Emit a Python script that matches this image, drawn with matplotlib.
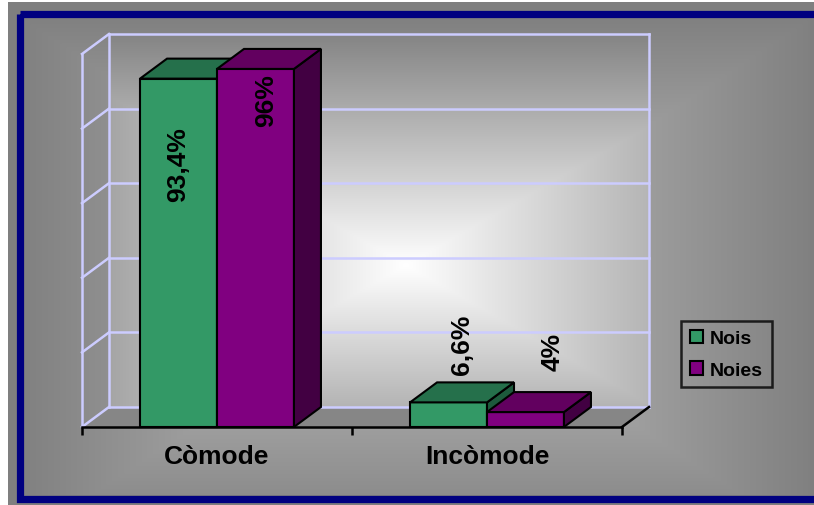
import numpy as np
import matplotlib
matplotlib.use("Agg")
import matplotlib.pyplot as plt
from matplotlib.patches import Polygon, Rectangle, Patch

plt.rcParams["font.family"] = ["Liberation Sans", "DejaVu Sans"]
plt.rcParams["font.weight"] = "bold"

# ---- data ----
categories = ["Còmode", "Incòmode"]
series = ["Nois", "Noies"]
nois = [93.4, 6.6]
noies = [96.0, 4.0]
value_labels = [["93,4%", "6,6%"], ["96%", "4%"]]

# ---- style ----
front_colors = ["#339966", "#800080"]
top_colors = ["#25704b", "#62005f"]
side_colors = ["#1d5a3c", "#420042"]
grid_color = "#ccccff"
BAR_W = 0.285          # width of one bar (category units)
DX, DY = 0.1, 5.36     # 3-D depth offset (data units)
YMAX = 100
# label anchor (x shift, y centre) per series/category
label_dx = [[0.0, 0.05], [0.04, 0.1]]
label_y = [[70.5, 22.3], [87.7, 20.4]]

W, H = 814, 506
fig = plt.figure(figsize=(W / 100, H / 100), dpi=100)
fig.patch.set_facecolor("white")

# ---- chart-area background ----
bg = fig.add_axes([0, 0, 1, 1])
bg.set_xlim(0, W)
bg.set_ylim(H, 0)
bg.axis("off")


def rect_gradient(nx, ny, cx, cy, hx, hy, c_in, c_out, gamma=1.0):
    xs = (np.arange(nx) + 0.5) / nx
    ys = (np.arange(ny) + 0.5) / ny
    X, Y = np.meshgrid(xs, ys)
    t = np.maximum(np.abs(X - cx) / hx, np.abs(Y - cy) / hy)
    t = np.clip(t, 0, 1) ** gamma
    c_in = np.array(matplotlib.colors.to_rgb(c_in))
    c_out = np.array(matplotlib.colors.to_rgb(c_out))
    return c_in * (1 - t[..., None]) + c_out * t[..., None]


bg.add_patch(Rectangle((8, 3), W, H, facecolor="#7f7f7f", edgecolor="none"))
outer = rect_gradient(400, 250, 0.5, 0.55, 0.55, 0.6, "#c4c4c4", "#7a7a7a")
bg.imshow(outer, extent=(23, 810, 496, 18), aspect="auto", interpolation="bilinear", zorder=1)
bg.add_patch(Rectangle((19.5, 14.5), 796, 485, facecolor="none",
                       edgecolor="#000080", linewidth=5.2, zorder=2))

# ---- plot axes (front plane of the 3-D box) ----
ax = fig.add_axes([82 / W, 1 - 428 / H, 540 / W, 373 / H])
ax.patch.set_visible(False)
for s in ax.spines.values():
    s.set_visible(False)

# back wall gradient
wall = rect_gradient(300, 200, 0.55, 0.62, 0.75, 0.62, "#ffffff", "#848484")
ax.imshow(wall, extent=(-0.5 + DX, 1.5 + DX, DY, YMAX + DY), aspect="auto",
          interpolation="bilinear", zorder=0.5, clip_on=False)

# floor
ax.add_patch(Polygon([(-0.5, 0), (1.5, 0), (1.5 + DX, DY), (-0.5 + DX, DY)],
                     closed=True, facecolor="#868686", edgecolor="none",
                     zorder=0.6, clip_on=False))

# gridlines on back wall and side wall
gkw = dict(color=grid_color, lw=1.8, zorder=0.8, clip_on=False, solid_capstyle="projecting")
for v in range(0, YMAX + 1, 20):
    ax.plot([-0.5 + DX, 1.5 + DX], [v + DY, v + DY], **gkw)
    ax.plot([-0.5, -0.5 + DX], [v, v + DY], **gkw)
ax.plot([-0.5, -0.5], [0, YMAX], **gkw)
ax.plot([-0.5 + DX, -0.5 + DX], [DY, YMAX + DY], **gkw)
ax.plot([1.5 + DX, 1.5 + DX], [DY, YMAX + DY], **gkw)

# floor edges / category axis
ax.plot([-0.5, 1.5], [0, 0], color="black", lw=1.8, zorder=0.9, clip_on=False)
ax.plot([1.5, 1.5 + DX], [0, DY], color="black", lw=1.8, zorder=0.9, clip_on=False)
ax.set_xticks([-0.5, 0.5, 1.5])
ax.set_xticklabels([])
ax.tick_params(axis="x", length=6, width=1.8, color="black", direction="out")
ax.set_yticks([])

# ---- 3-D bars ----
xpos = np.arange(len(categories))
for s, vals in enumerate([nois, noies]):
    x0 = xpos - BAR_W + s * BAR_W
    ax.bar(x0, vals, width=BAR_W, align="edge", color=front_colors[s],
           edgecolor="black", linewidth=1.5, zorder=1 + s)
    for x, v in zip(x0, vals):
        side = [(x + BAR_W, 0), (x + BAR_W, v), (x + BAR_W + DX, v + DY), (x + BAR_W + DX, DY)]
        top = [(x, v), (x + BAR_W, v), (x + BAR_W + DX, v + DY), (x + DX, v + DY)]
        ax.add_patch(Polygon(side, closed=True, facecolor=side_colors[s],
                             edgecolor="black", lw=1.5, zorder=1 + s, clip_on=False))
        ax.add_patch(Polygon(top, closed=True, facecolor=top_colors[s],
                             edgecolor="black", lw=1.5, zorder=1 + s, clip_on=False,
                             joinstyle="miter"))

# value labels
for s in range(len(series)):
    for i in range(len(categories)):
        xc = xpos[i] - BAR_W / 2 + s * BAR_W + label_dx[s][i]
        ax.text(xc, label_y[s][i], value_labels[s][i], rotation=90, ha="center",
                va="center", fontsize=19, fontweight="bold", color="black", zorder=5)

# category labels
for i, c in enumerate(categories):
    ax.text(xpos[i], -0.078, c, transform=ax.get_xaxis_transform(), ha="center",
            va="center", fontsize=19, fontweight="bold", color="black")

ax.set_xlim(-0.5, 1.5)
ax.set_ylim(0, YMAX)

# legend
handles = [Patch(facecolor=front_colors[s], edgecolor="black", linewidth=1.5, label=series[s])
           for s in range(len(series))]
leg = fig.legend(handles=handles, loc="upper left",
                 bbox_to_anchor=(681 / W, 1 - 322 / H), borderaxespad=0,
                 fontsize=14, frameon=True, fancybox=False, handlelength=0.7,
                 handleheight=0.7, handletextpad=0.35, labelspacing=0.7,
                 borderpad=0.45, prop={"weight": "bold", "size": 14})
leg.get_frame().set_edgecolor("black")
leg.get_frame().set_linewidth(1.8)
leg.get_frame().set_facecolor("none")

fig.savefig("out.png", dpi=100)
